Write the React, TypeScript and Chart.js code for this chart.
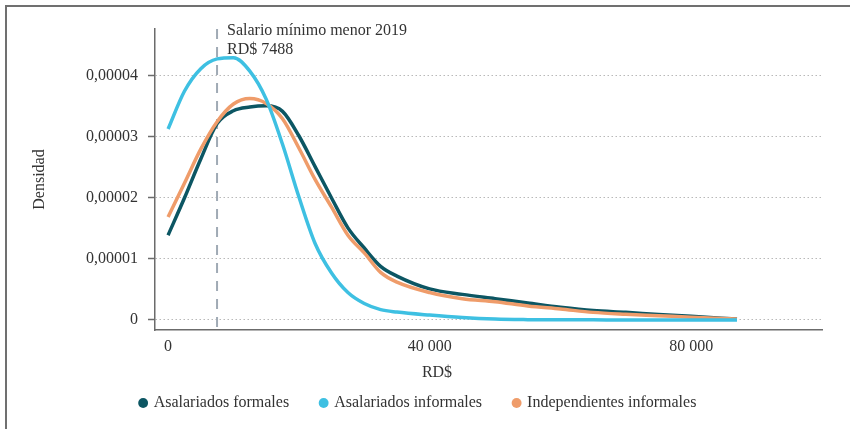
import React, { useEffect, useRef } from 'react';
import { Chart, registerables } from 'chart.js';

Chart.register(...registerables);

// Income grid (RD$)
const incomeRD = [0, 2500, 5000, 7500, 10000, 12500, 15000, 17500, 20000, 22500, 25000, 27500, 30000, 32500, 35000, 40000, 45000, 50000, 55000, 60000, 65000, 70000, 75000, 80000, 87000];

// Kernel densities
const asalariadosFormales = [1.39e-5, 2.0e-5, 2.64e-5, 3.22e-5, 3.43e-5, 3.49e-5, 3.51e-5, 3.42e-5, 3.02e-5, 2.51e-5, 2.0e-5, 1.51e-5, 1.18e-5, 0.88e-5, 0.72e-5, 0.51e-5, 0.42e-5, 0.35e-5, 0.28e-5, 0.21e-5, 0.155e-5, 0.125e-5, 0.09e-5, 0.06e-5, 0.015e-5];
const asalariadosInformales = [3.13e-5, 3.75e-5, 4.12e-5, 4.28e-5, 4.3e-5, 4.08e-5, 3.62e-5, 2.88e-5, 2.02e-5, 1.25e-5, 0.77e-5, 0.45e-5, 0.27e-5, 0.17e-5, 0.13e-5, 0.08e-5, 0.04e-5, 0.015e-5, 0.006e-5, 0.003e-5, 0.002e-5, 0.001e-5, 0.001e-5, 0.0005e-5, 0];
const independientesInformales = [1.69e-5, 2.24e-5, 2.8e-5, 3.25e-5, 3.54e-5, 3.63e-5, 3.55e-5, 3.3e-5, 2.82e-5, 2.3e-5, 1.85e-5, 1.39e-5, 1.1e-5, 0.78e-5, 0.62e-5, 0.45e-5, 0.35e-5, 0.3e-5, 0.23e-5, 0.18e-5, 0.125e-5, 0.094e-5, 0.07e-5, 0.045e-5, 0.015e-5];

const seriesNames = ['Asalariados formales', 'Asalariados informales', 'Independientes informales'];
const seriesColors = ['#0c5663', '#3ec0e2', '#ef9c6a'];

const xTickValues = [0, 40000, 80000];
const xTickLabels = ['0', '40 000', '80 000'];
const yTickValues = [0, 0.00001, 0.00002, 0.00003, 0.00004];
const yTickLabels = ['0', '0,00001', '0,00002', '0,00003', '0,00004'];

const minWage = 7488;
const minWageLabel = ['Salario mínimo menor 2019', 'RD$ 7488'];
const xTitle = 'RD$';
const yTitle = 'Densidad';

const FONT_FAMILY = "'Liberation Serif', 'Times New Roman', serif";
const TEXT_COLOR = '#333333';
const AXIS_COLOR = '#6b6b6b';

const toPoints = (ys: number[]) => incomeRD.map((x, i) => ({ x, y: ys[i] }));

const overlayPlugin = {
  id: 'minWageOverlay',
  beforeDatasetsDraw(chart: any) {
    const { ctx, chartArea, scales } = chart;
    const x = scales.x.getPixelForValue(minWage);
    ctx.save();
    ctx.strokeStyle = '#a0aab5';
    ctx.lineWidth = 2;
    ctx.setLineDash([10, 8]);
    ctx.beginPath();
    ctx.moveTo(x, chartArea.top);
    ctx.lineTo(x, chartArea.bottom);
    ctx.stroke();
    ctx.restore();
  },
  afterDraw(chart: any) {
    const { ctx, chartArea, scales, width } = chart;
    const x = scales.x.getPixelForValue(minWage);
    ctx.save();
    ctx.fillStyle = TEXT_COLOR;
    ctx.font = `16px ${FONT_FAMILY}`;
    ctx.textAlign = 'left';
    ctx.textBaseline = 'alphabetic';
    minWageLabel.forEach((line, i) => {
      ctx.fillText(line, x + 10, chartArea.top + 6 + i * 19);
    });
    ctx.textAlign = 'center';
    ctx.fillText(xTitle, width / 2 + 12, chartArea.bottom + 47);
    ctx.restore();
  },
};

export default function App() {
  const canvasRef = useRef<HTMLCanvasElement | null>(null);

  useEffect(() => {
    if (!canvasRef.current) return;
    const font = { family: FONT_FAMILY, size: 16 };
    const series = [asalariadosFormales, asalariadosInformales, independientesInformales];
    const drawOrder = [2, 0, 1];
    const chart = new Chart(canvasRef.current, {
      type: 'line',
      data: {
        datasets: series.map((s, i) => ({
          label: seriesNames[i],
          data: toPoints(s),
          borderColor: seriesColors[i],
          backgroundColor: seriesColors[i],
          borderWidth: 3.5,
          pointRadius: 0,
          cubicInterpolationMode: 'monotone' as const,
          fill: false,
          order: drawOrder[i],
        })),
      },
      options: {
        responsive: false,
        animation: false,
        layout: { padding: { left: 15, right: 28, top: 29, bottom: 8 } },
        plugins: {
          tooltip: { enabled: false },
          legend: {
            position: 'bottom',
            labels: {
              usePointStyle: true,
              pointStyle: 'circle',
              boxWidth: 5,
              boxHeight: 7,
              padding: 32,
              color: TEXT_COLOR,
              font,
              sort: (a: any, b: any) => a.datasetIndex - b.datasetIndex,
              generateLabels: (c: any) =>
                Chart.defaults.plugins.legend.labels.generateLabels(c).map((l: any) => ({ ...l, lineWidth: 0 })),
            },
          },
        },
        scales: {
          x: {
            type: 'linear',
            min: -2000,
            max: 100000,
            afterBuildTicks: (axis: any) => {
              axis.ticks = xTickValues.map((v) => ({ value: v }));
            },
            afterFit: (axis: any) => {
              axis.height = 33;
            },
            grid: { drawOnChartArea: false, drawTicks: false, tickLength: 0 },
            border: { display: true, color: AXIS_COLOR, width: 1.5 },
            ticks: {
              padding: 7,
              color: TEXT_COLOR,
              font,
              maxRotation: 0,
              callback: (_v: any, i: number) => xTickLabels[i],
            },
          },
          y: {
            type: 'linear',
            min: -0.00000164,
            max: 0.0000477,
            afterBuildTicks: (axis: any) => {
              axis.ticks = yTickValues.map((v) => ({ value: v }));
            },
            afterFit: (axis: any) => {
              axis.width = 140;
            },
            grid: {
              color: '#b9b9b9',
              lineWidth: 1,
              tickLength: 7,
              tickColor: AXIS_COLOR,
              tickWidth: 1.5,
              tickBorderDash: [],
              borderDash: [1.5, 2.5],
            } as any,
            border: { display: true, color: AXIS_COLOR, width: 1.5, dash: [1.5, 2.5] },
            ticks: {
              padding: 10,
              color: TEXT_COLOR,
              font,
              callback: (_v: any, i: number) => yTickLabels[i],
            },
            title: {
              display: true,
              text: yTitle,
              color: TEXT_COLOR,
              font,
              padding: { top: 15, bottom: 0 },
            },
          },
        },
      } as any,
      plugins: [overlayPlugin],
    });
    return () => chart.destroy();
  }, []);

  return (
    <div style={{ position: 'fixed', left: 0, top: 0, width: 850, height: 429, overflow: 'hidden', background: '#fff' }}>
      <div
        style={{
          position: 'absolute',
          left: 5,
          top: 5,
          width: 900,
          height: 500,
          borderLeft: '2px solid #707070',
          borderTop: '2px solid #707070',
          boxSizing: 'border-box',
        }}
      />
      <canvas ref={canvasRef} width={850} height={429} style={{ position: 'absolute', left: 0, top: 0 }} />
    </div>
  );
}
